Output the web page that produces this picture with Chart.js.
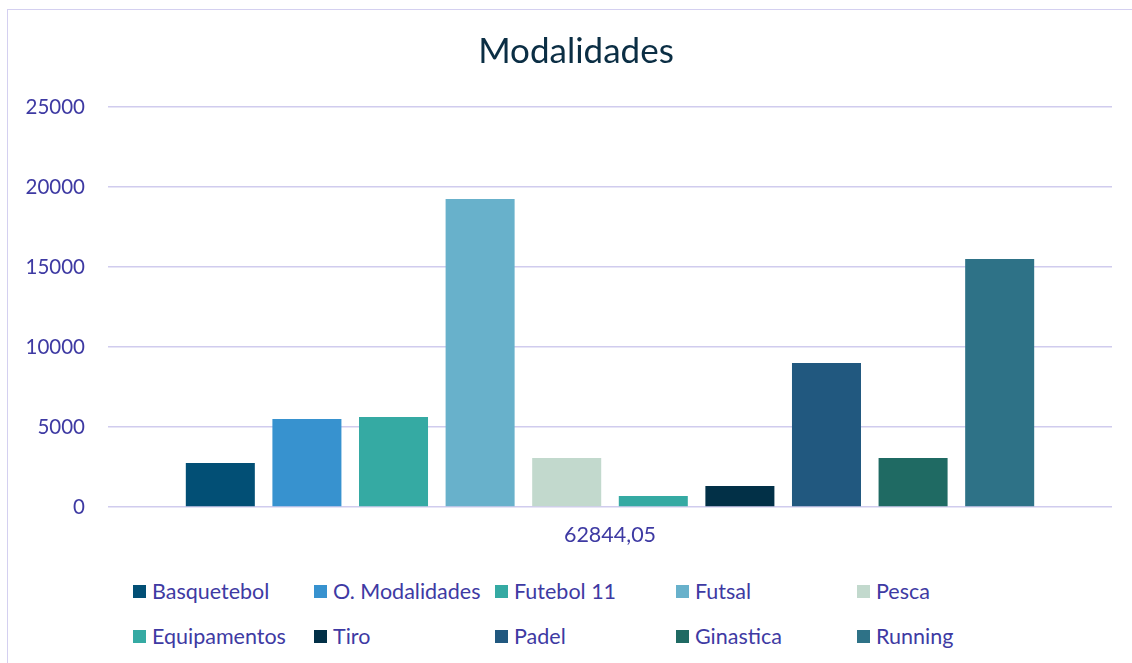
<!DOCTYPE html>
<html>
<head>
<meta charset="utf-8">
<title>Modalidades</title>
<script src="https://cdn.jsdelivr.net/npm/chart.js@4/dist/chart.umd.min.js"></script>
<style>
    html, body {
        margin: 0;
        padding: 0;
        width: 1132px;
        height: 663px;
        overflow: hidden;
        background: #ffffff;
        font-family: Lato, "Open Sans", sans-serif;
    }
    .frame {
        position: absolute;
        left: 7px;
        top: 9px;
        width: 1150px;
        height: 680px;
        border: 1.5px solid #d4d0f0;
    }
    .chart-box {
        position: absolute;
        left: 8px;
        top: 9px;
        width: 1134px;
        height: 560px;
    }
    #legend {
        position: absolute;
        left: 133px;
        top: 577px;
        display: grid;
        grid-template-columns: repeat(5, 181px);
        grid-auto-rows: 45px;
        margin: 0;
        padding: 0;
        list-style: none;
    }
    #legend li {
        display: flex;
        align-items: center;
        height: 28px;
        font-size: 21.5px;
        color: #3e3aa3;
        white-space: nowrap;
    }
    #legend .box {
        display: inline-block;
        width: 13px;
        height: 13px;
        margin-right: 6px;
    }
</style>
</head>
<body>
<div class="frame"></div>
<div class="chart-box"><canvas id="chart"></canvas></div>
<ul id="legend"></ul>

<script>
// Chart data.
var categories = ['62844,05'];
var seriesNames = ['Basquetebol', 'O. Modalidades', 'Futebol 11', 'Futsal', 'Pesca',
    'Equipamentos', 'Tiro', 'Padel', 'Ginastica', 'Running'];
var seriesValues = [2750, 5500, 5620, 19250, 3060, 690, 1310, 9000, 3060, 15500];
var seriesColors = ['#024f75', '#3792cf', '#35aaa3', '#68b1cb', '#c2d9cd',
    '#35aaa3', '#023047', '#21587f', '#1f6a63', '#2e7287'];
var yTicks = [0, 5000, 10000, 15000, 20000, 25000];

var textColor = '#3e3aa3';
var gridColor = '#d0ccee';

/**
 * Build the legend as an HTML grid so the columns line up.
 */
var htmlLegend = {
    id: 'htmlLegend',
    afterUpdate: function(chart) {
        var list = document.getElementById('legend');
        while (list.firstChild) {
            list.removeChild(list.firstChild);
        }
        var items = chart.options.plugins.legend.labels.generateLabels(chart);
        items.forEach(function(item) {
            var li = document.createElement('li');
            var box = document.createElement('span');
            box.className = 'box';
            box.style.background = item.fillStyle;
            li.appendChild(box);
            li.appendChild(document.createTextNode(item.text));
            list.appendChild(li);
        });
    }
};

/**
 * Center the title on the whole frame, not on the padded layout box.
 */
var titleShift = {
    id: 'titleShift',
    afterLayout: function(chart) {
        if (chart.titleBlock) {
            chart.titleBlock.left += 8;
            chart.titleBlock.right += 8;
        }
    }
};

var datasets = seriesNames.map(function(name, i) {
    return {
        label: name,
        data: [seriesValues[i]],
        backgroundColor: seriesColors[i],
        borderWidth: 0,
        categoryPercentage: 0.8625,
        barPercentage: 0.797
    };
});

new Chart(document.getElementById('chart'), {
    type: 'bar',
    data: {
        labels: categories,
        datasets: datasets
    },
    options: {
        responsive: true,
        maintainAspectRatio: false,
        animation: false,
        layout: {
            padding: { left: 16, right: 30, top: 0, bottom: 0 }
        },
        plugins: {
            legend: { display: false },
            tooltip: { enabled: false },
            title: {
                display: true,
                text: 'Modalidades',
                color: '#0b2e44',
                font: { family: 'Lato', size: 35, weight: 'normal' },
                padding: { top: 22, bottom: 34 }
            }
        },
        scales: {
            x: {
                grid: { display: false, drawTicks: false },
                border: { display: false },
                ticks: {
                    color: textColor,
                    padding: 15,
                    font: { family: 'Lato', size: 21.5 }
                },
                afterFit: function(scale) {
                    scale.height = 62;
                }
            },
            y: {
                min: 0,
                max: 25000,
                afterBuildTicks: function(scale) {
                    scale.ticks = yTicks.map(function(v) { return { value: v }; });
                },
                grid: {
                    color: gridColor,
                    lineWidth: 1.5,
                    drawTicks: false
                },
                border: { display: false },
                ticks: {
                    color: textColor,
                    padding: 23,
                    font: { family: 'Lato', size: 20.5 },
                    callback: function(v) { return String(v); }
                },
                afterFit: function(scale) {
                    scale.width = 84;
                }
            }
        }
    },
    plugins: [htmlLegend, titleShift]
});
</script>
</body>
</html>
